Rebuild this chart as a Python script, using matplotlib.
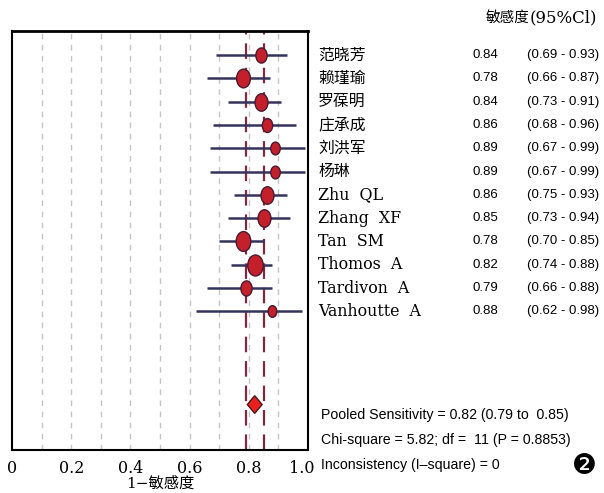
import matplotlib
matplotlib.use("Agg")
import matplotlib.pyplot as plt
from matplotlib.transforms import blended_transform_factory, Affine2D, ScaledTranslation
from matplotlib.patches import Polygon
from matplotlib.path import Path

studies = ["范晓芳", "赖瑾瑜", "罗葆明", "庄承成", "刘洪军", "杨琳", "Zhu  QL", "Zhang  XF",
           "Tan  SM", "Thomos  A", "Tardivon  A", "Vanhoutte  A"]
sens = [0.84, 0.78, 0.84, 0.86, 0.89, 0.89, 0.86, 0.85, 0.78, 0.82, 0.79, 0.88]
ci_lo = [0.69, 0.66, 0.73, 0.68, 0.67, 0.67, 0.75, 0.73, 0.70, 0.74, 0.66, 0.62]
ci_hi = [0.93, 0.87, 0.91, 0.96, 0.99, 0.99, 0.93, 0.94, 0.85, 0.88, 0.88, 0.98]
weights = [13, 16, 15, 12, 11, 11, 15, 15, 17, 18, 13, 10]
pooled, pooled_lo, pooled_hi = 0.82, 0.79, 0.85
xticks = [0, 0.2, 0.4, 0.6, 0.8, 1.0]
xticklabels = ["0", "0.2", "0.4", "0.6", "0.8", "1.0"]
grid_x = [0.1, 0.2, 0.3, 0.4, 0.5, 0.6, 0.7, 0.8, 0.9]
stats_lines = ["Pooled Sensitivity = 0.82 (0.79 to  0.85)",
               "Chi-square = 5.82; df =  11 (P = 0.8853)",
               "Inconsistency (I\u2013square) = 0"]

serif = ["DejaVu Serif", "Noto Sans CJK SC"]
narrow = ["Liberation Sans Narrow", "Liberation Sans", "DejaVu Sans"]

fig = plt.figure(figsize=(6.04, 4.93), dpi=100)
ax = fig.add_axes([12/604, 1-450/493, 296/604, (450-31)/493])
ax.set_xlim(0, 1.0)
ax.set_ylim(16.95, -1.03)

for gx in grid_x:
    ax.axvline(gx, color="#c4c4c4", lw=1.0, ls=(0, (4, 4)), zorder=1)
for px in (pooled_lo, pooled_hi):
    ax.axvline(px, color="#7d2a40", lw=1.6, ls=(0, (7, 4)), zorder=2)

oval = Path.unit_circle().transformed(Affine2D().scale(0.74, 1.0))

rows = list(range(len(studies)))
for i in rows:
    ax.plot([ci_lo[i], ci_hi[i]], [i, i], color="#34335c", lw=1.8, zorder=3, solid_capstyle="butt")
    ax.plot(sens[i], i, marker=oval, ls="none", ms=weights[i]*0.84, mfc="#c4202c",
            mec="#4a1a30", mew=1.0, zorder=4)

dy = 0.38
diamond = Polygon([[pooled_lo + 0.005, 15], [pooled, 15 - dy], [pooled_hi - 0.005, 15], [pooled, 15 + dy]],
                  closed=True, fc="#e8201e", ec="#4a1a20", lw=1.0, zorder=5)
ax.add_patch(diamond)

for s in ax.spines.values():
    s.set_linewidth(1.5)
ax.spines["top"].set_linewidth(2.0)
ax.set_yticks([])
ax.set_xticks(xticks)
ax.set_xticklabels(xticklabels, family=serif, fontsize=11.5)
ax.tick_params(axis="x", length=0, pad=7)
last = ax.get_xticklabels()[-1]
last.set_transform(last.get_transform() + ScaledTranslation(-6/100, 0, fig.dpi_scale_trans))
ax.set_xlabel("1\u2212敏感度", family=serif, fontsize=11, labelpad=0)

tr = blended_transform_factory(fig.transFigure, ax.transData)
for i in rows:
    ax.text(318/604, i, studies[i], transform=tr, family=serif, fontsize=11.4,
            va="center", ha="left", clip_on=False)
    ax.text(473/604, i, f"{sens[i]:.2f}", transform=tr, family=narrow, fontsize=9.5,
            va="center", ha="left", clip_on=False)
    ax.text(527/604, i, f"({ci_lo[i]:.2f} - {ci_hi[i]:.2f})", transform=tr, family=narrow,
            fontsize=9.5, va="center", ha="left", clip_on=False)

fig.text(486/604, 1-18/493, "敏感度", family=serif, fontsize=10.5, va="center", ha="left")
fig.text(530/604, 1-18/493, "(95%Cl)", family=serif, fontsize=12, va="center", ha="left")

for k, line in enumerate(stats_lines):
    fig.text(321/604, 1-(415 + 25*k)/493, line, family=narrow, fontsize=10.2, va="center", ha="left")

fig.text(584/604, 1-466/493, "\u2777", family=["DejaVu Sans"], fontsize=20, va="center", ha="center")

fig.savefig("out.png", dpi=100, facecolor="white")
